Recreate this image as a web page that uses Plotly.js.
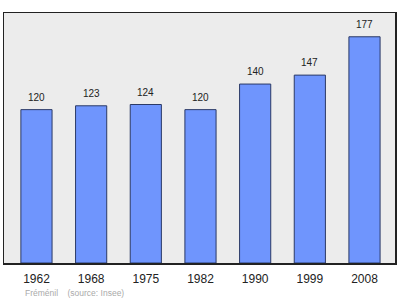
<!DOCTYPE html>
<html><head><meta charset="utf-8">
<script src="https://cdn.plot.ly/plotly-3.0.1.min.js"></script>
<style>html,body{margin:0;padding:0;background:#fff}#c{width:400px;height:299px}</style>
</head><body><div id="c"></div>
<script>
const years = ['1962','1968','1975','1982','1990','1999','2008'];
const population = [120,123,124,120,140,147,177];
const sourceText = 'Fréménil    (source: Insee)';
const FONT = 'Liberation Sans, Arial, sans-serif';

const trace = {
  type:'bar', x: years, y: population, width:0.57,
  marker:{color:'#6f95fd', line:{color:'#2b3a66', width:1}},
  hoverinfo:'none'
};
const annotations = population.map((v,i)=>({
  x: i, y: v, xref:'x', yref:'y', text: String(v),
  showarrow:false, yanchor:'bottom', yshift:5,
  font:{family:FONT, size:10, color:'#222'}
}));
annotations.push({xref:'paper', yref:'paper', x:0.048, y:-0.092, xanchor:'left', yanchor:'top',
  text: sourceText, showarrow:false, font:{family:FONT, size:8.5, color:'#aaaaaa'}});

const layout = {
  width:400, height:299,
  margin:{l:4, r:5, t:13, b:36},
  paper_bgcolor:'#fff', plot_bgcolor:'#ececec',
  showlegend:false,
  xaxis:{type:'category', range:[-0.594,6.558], showgrid:false, zeroline:false,
    showline:true, mirror:true, linecolor:'#222', linewidth:1.5, ticks:'', ticklabelstandoff:4,
    tickfont:{family:FONT, size:12, color:'#222'}},
  yaxis:{range:[0,195.6], showgrid:false, zeroline:false, showticklabels:false,
    showline:true, mirror:true, linecolor:'#222', linewidth:1.5, ticks:''},
  annotations: annotations
};
Plotly.newPlot('c',[trace],layout,{staticPlot:true, displayModeBar:false});
</script></body></html>
